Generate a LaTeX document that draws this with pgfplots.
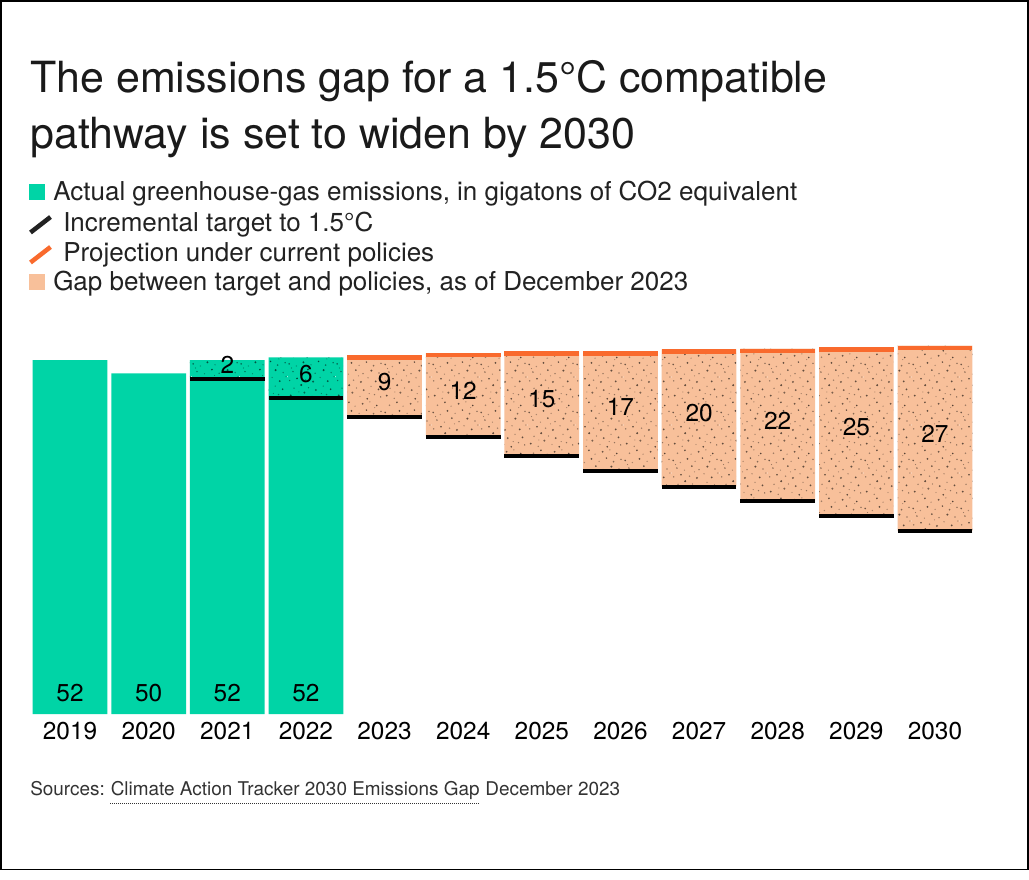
\documentclass[border=0pt]{standalone}
\usepackage{pgfplots}
\pgfplotsset{compat=1.18}
\usepackage{pgfplotstable}
\usepackage{fontspec}
\setmainfont{TeX Gyre Heros}
\usetikzlibrary{patterns.meta}

\definecolor{cgreen}{HTML}{00D4A6}
\definecolor{cpeach}{HTML}{F8C09A}
\definecolor{corange}{HTML}{F96A2D}
\definecolor{ctitle}{HTML}{1A1A1A}
\definecolor{ctext}{HTML}{222222}
\definecolor{csrc}{HTML}{333333}

% speckle texture (decoration only)
\newcommand{\rs}{1.4}
\newcommand{\speckdots}[1]{%
  \fill[#1!40!black] (2.1pt,3.4pt) circle ({0.55pt*\rs});
  \fill[#1!65!black] (7.8pt,1.2pt) circle ({0.4pt*\rs});
  \fill[#1!50!black] (12.5pt,5.6pt) circle ({0.6pt*\rs});
  \fill[#1!70!black] (18.3pt,2.7pt) circle ({0.35pt*\rs});
  \fill[#1!35!black] (23.9pt,0.9pt) circle ({0.5pt*\rs});
  \fill[#1!60!black] (29.4pt,4.1pt) circle ({0.45pt*\rs});
  \fill[#1!45!black] (34.2pt,2.3pt) circle ({0.4pt*\rs});
  \fill[#1!65!black] (4.6pt,8.9pt) circle ({0.45pt*\rs});
  \fill[#1!35!black] (10.1pt,11.3pt) circle ({0.6pt*\rs});
  \fill[#1!55!black] (15.7pt,9.2pt) circle ({0.35pt*\rs});
  \fill[#1!45!black] (21.2pt,7.5pt) circle ({0.55pt*\rs});
  \fill[#1!70!black] (26.8pt,10.4pt) circle ({0.4pt*\rs});
  \fill[#1!40!black] (32.5pt,8.1pt) circle ({0.5pt*\rs});
  \fill[#1!55!black] (1.3pt,14.6pt) circle ({0.4pt*\rs});
  \fill[#1!35!black] (6.9pt,16.2pt) circle ({0.5pt*\rs});
  \fill[#1!65!black] (13.4pt,15.1pt) circle ({0.45pt*\rs});
  \fill[#1!45!black] (19.1pt,13.8pt) circle ({0.6pt*\rs});
  \fill[#1!60!black] (24.5pt,16.9pt) circle ({0.35pt*\rs});
  \fill[#1!40!black] (30.3pt,14.2pt) circle ({0.55pt*\rs});
  \fill[#1!70!black] (35.1pt,17.5pt) circle ({0.4pt*\rs});
  \fill[#1!50!black] (3.8pt,21.3pt) circle ({0.45pt*\rs});
  \fill[#1!65!black] (9.5pt,19.7pt) circle ({0.35pt*\rs});
  \fill[#1!35!black] (15.2pt,22.8pt) circle ({0.5pt*\rs});
  \fill[#1!55!black] (20.7pt,20.1pt) circle ({0.4pt*\rs});
  \fill[#1!40!black] (27.1pt,22.4pt) circle ({0.6pt*\rs});
  \fill[#1!65!black] (32.9pt,20.6pt) circle ({0.45pt*\rs});
  \fill[#1!45!black] (0.9pt,27.1pt) circle ({0.5pt*\rs});
  \fill[#1!70!black] (6.4pt,25.5pt) circle ({0.4pt*\rs});
  \fill[#1!40!black] (11.8pt,28.3pt) circle ({0.55pt*\rs});
  \fill[#1!60!black] (17.6pt,26.4pt) circle ({0.35pt*\rs});
  \fill[#1!35!black] (23.3pt,28.9pt) circle ({0.45pt*\rs});
  \fill[#1!55!black] (28.7pt,26.2pt) circle ({0.5pt*\rs});
  \fill[#1!45!black] (34.4pt,28.0pt) circle ({0.4pt*\rs});
  \fill[#1!65!black] (4.2pt,32.6pt) circle ({0.45pt*\rs});
  \fill[#1!40!black] (9.9pt,34.8pt) circle ({0.5pt*\rs});
  \fill[#1!70!black] (14.6pt,31.9pt) circle ({0.4pt*\rs});
  \fill[#1!45!black] (20.4pt,33.7pt) circle ({0.55pt*\rs});
  \fill[#1!60!black] (25.9pt,35.1pt) circle ({0.35pt*\rs});
  \fill[#1!35!black] (31.2pt,32.4pt) circle ({0.5pt*\rs});
  \fill[#1!60!black] (8.3pt,6.1pt) circle ({0.3pt*\rs});
  \fill[#1!60!black] (17.2pt,18.4pt) circle ({0.3pt*\rs});
  \fill[#1!60!black] (29.6pt,30.8pt) circle ({0.3pt*\rs});
  \fill[#1!60!black] (2.7pt,24.0pt) circle ({0.3pt*\rs});
  \fill[#1!60!black] (25.4pt,4.9pt) circle ({0.3pt*\rs});
}
\tikzdeclarepattern{
  name=speckP, type=colored,
  bottom left={(0pt,0pt)}, top right={(36pt,36pt)}, tile size={(36pt,36pt)},
  code={\speckdots{cpeach}}
}
\tikzdeclarepattern{
  name=speckG, type=colored,
  bottom left={(0pt,0pt)}, top right={(36pt,36pt)}, tile size={(36pt,36pt)},
  code={\speckdots{cgreen}}
}

% stacked segments: solid green, invisible base, textured green gap, textured peach gap
\pgfplotstableread{
x green base ggap pgap
0 52.00 0 0 0
1 50.05 0 0 0
2 49.25 0 2.75 0
3 46.40 0 5.99 0
4 0 43.60 0 9.09
5 0 40.73 0 12.30
6 0 37.85 0 15.43
7 0 35.65 0 17.63
8 0 33.42 0 20.15
9 0 31.24 0 22.42
10 0 29.05 0 24.81
11 0 26.85 0 27.25
}\bars
\pgfplotstableread{
x t
2 49.25
3 46.40
4 43.60
5 40.73
6 37.85
7 35.65
8 33.42
9 31.24
10 29.05
11 26.85
}\targets
\pgfplotstableread{
x p
4 52.69
5 53.03
6 53.28
7 53.28
8 53.57
9 53.66
10 53.86
11 54.10
}\policy
\pgfplotstableread{
x y lab
2 51.30 2
3 49.97 6
4 48.77 9
5 47.54 12
6 46.23 15
7 45.12 17
8 44.17 20
9 43.11 22
10 42.15 25
11 41.13 27
}\gaplabels
\pgfplotstableread{
x y lab
0 3.04 52
1 3.04 50
2 3.04 52
3 3.04 52
}\actlabels

\begin{document}
\begin{tikzpicture}
\path[use as bounding box, fill=white] (0pt,0pt) rectangle (771.75pt,-660pt);

\pgfplotsset{
  geom/.style={
    at={(23.03pt,-535.5pt)}, anchor=south west,
    scale only axis, width=707.7pt, height=285.9pt,
    xmin=-0.5, xmax=11.5, ymin=0, ymax=56, clip=false,
  }
}

\begin{axis}[geom, hide axis, ybar stacked, bar width=0.95]
\addplot[fill=cgreen, draw=none] table[x=x, y=green]{\bars};
\addplot[fill=none, draw=none] table[x=x, y=base]{\bars};
\addplot[fill=cgreen, draw=none, postaction={pattern=speckG}] table[x=x, y=ggap]{\bars};
\addplot[fill=cpeach, draw=none, postaction={pattern=speckP}] table[x=x, y=pgap]{\bars};
\end{axis}

\begin{axis}[geom,
  axis line style={draw=none}, major tick length=0pt, tick style={draw=none},
  ytick=\empty, xtick={0,...,11},
  xticklabels={2019,2020,2021,2022,2023,2024,2025,2026,2027,2028,2029,2030},
  xticklabel style={font=\fontsize{18.3}{18}\selectfont, text=black, anchor=base, yshift=-19pt},
]
\addplot[only marks, mark=-, mark size=28pt, mark options={line width=3pt, draw=black}] table[x=x, y=t]{\targets};
\addplot[only marks, mark=-, mark size=28pt, mark options={line width=3.2pt, draw=corange, yshift=-1.6pt}] table[x=x, y=p]{\policy};
\addplot[draw=none, mark=none, nodes near coords, point meta=explicit symbolic,
  every node near coord/.append style={anchor=center, font=\fontsize{18.3}{18}\selectfont, text=black}]
  table[x=x, y=y, meta=lab]{\gaplabels};
\addplot[draw=none, mark=none, nodes near coords, point meta=explicit symbolic,
  every node near coord/.append style={anchor=center, font=\fontsize{18.3}{18}\selectfont, text=black}]
  table[x=x, y=y, meta=lab]{\actlabels};
\end{axis}

\begin{scope}[x=0.75pt, y=-0.75pt]
\draw[line width=1.1pt, black] (1,1) rectangle (1027.8,869.5);

\node[anchor=base west, inner sep=0, text=ctitle, font=\fontsize{32.2}{36}\selectfont] at (30,92.7) {The emissions gap for a 1.5°C compatible};
\node[anchor=base west, inner sep=0, text=ctitle, font=\fontsize{32.2}{36}\selectfont] at (30,149) {pathway is set to widen by 2030};

\fill[cgreen] (29,184) rectangle (45,200.5);
\node[anchor=base west, inner sep=0, text=ctext, font=\fontsize{19.5}{20}\selectfont] at (53,201) {Actual greenhouse-gas emissions, in gigatons of CO2 equivalent};
\draw[line width=3.4pt, ctext] (30.5,232.5) -- (50.5,217);
\node[anchor=base west, inner sep=0, text=ctext, font=\fontsize{19.5}{20}\selectfont] at (63,231.3) {Incremental target to 1.5°C};
\draw[line width=3.4pt, corange] (30.5,262.5) -- (50.5,247);
\node[anchor=base west, inner sep=0, text=ctext, font=\fontsize{19.5}{20}\selectfont] at (63,261.3) {Projection under current policies};
\fill[cpeach] (29,274) rectangle (45,290.5);
\node[anchor=base west, inner sep=0, text=ctext, font=\fontsize{19.5}{20}\selectfont] at (53,291) {Gap between target and policies, as of December 2023};

\node[anchor=base west, inner sep=0, text=csrc, font=\fontsize{14.2}{16}\selectfont] (s1) at (30,795.7) {Sources:};
\node[anchor=base west, inner sep=0, text=csrc, font=\fontsize{14.2}{16}\selectfont] (s2) at ([xshift=4pt]s1.base east) {Climate Action Tracker 2030 Emissions Gap};
\node[anchor=base west, inner sep=0, text=csrc, font=\fontsize{14.2}{16}\selectfont] (s3) at ([xshift=4pt]s2.base east) {December 2023};
\draw[csrc, line width=0.75pt, dash pattern=on 0.75pt off 0.75pt] ([yshift=-6.2pt]s2.base west) -- ([yshift=-6.2pt]s2.base east);
\end{scope}
\end{tikzpicture}
\end{document}
